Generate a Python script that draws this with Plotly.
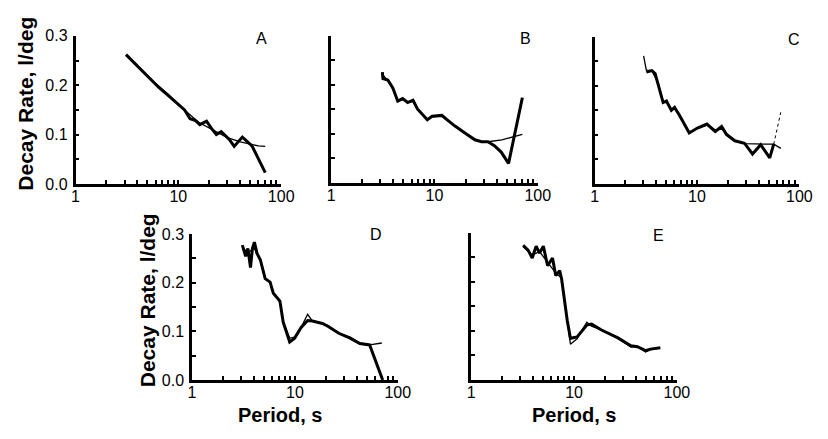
import plotly.graph_objects as go

# ---------------- data (period s, decay rate 1/deg) ----------------
A_obs_T = [3.1, 3.5, 4.0, 4.5, 5.0, 5.8, 6.5, 7.8, 9.0, 10.4, 11.5, 13.0, 14.5, 16.2, 18.8, 20.9, 23.4, 26.1, 31.3, 34.9, 41.9, 52.0, 70.0]
A_obs_y = [0.262, 0.251, 0.238, 0.228, 0.218, 0.204, 0.195, 0.181, 0.170, 0.158, 0.150, 0.132, 0.129, 0.120, 0.127, 0.113, 0.100, 0.106, 0.090, 0.076, 0.095, 0.077, 0.023]
A_fit_T = [3.1, 5.0, 8.0, 12.0, 16.0, 20.0, 25.0, 30.0, 40.0, 50.0, 60.0, 70.0]
A_fit_y = [0.262, 0.218, 0.181, 0.146, 0.124, 0.113, 0.102, 0.094, 0.085, 0.080, 0.077, 0.076]

B_obs_T = [3.13, 3.17, 3.54, 3.95, 4.41, 4.92, 5.5, 6.2, 6.84, 8.52, 9.5, 11.8, 13.2, 15.8, 19.7, 24.6, 28.5, 32.9, 38.0, 44.2, 52.1, 70.9]
B_obs_y = [0.226, 0.213, 0.210, 0.194, 0.167, 0.172, 0.164, 0.169, 0.151, 0.129, 0.136, 0.138, 0.129, 0.116, 0.102, 0.088, 0.084, 0.084, 0.076, 0.063, 0.040, 0.174]
B_fit_T = [3.13, 3.54, 3.95, 4.41, 4.92, 5.5, 6.2, 6.84, 8.52, 9.5, 11.8, 13.2, 15.8, 19.7, 24.6, 28.5, 32.9, 45.0, 59.0, 70.9]
B_fit_y = [0.222, 0.208, 0.192, 0.168, 0.170, 0.165, 0.166, 0.150, 0.130, 0.135, 0.136, 0.128, 0.116, 0.102, 0.088, 0.084, 0.084, 0.088, 0.094, 0.099]

C_obs_T = [3.2, 3.62, 3.9, 4.19, 4.67, 5.03, 5.62, 6.04, 6.74, 8.4, 10.1, 12.5, 15.1, 17.4, 19.4, 23.4, 29.1, 34.9, 41.9, 51.4, 56.2]
C_obs_y = [0.228, 0.231, 0.225, 0.202, 0.166, 0.169, 0.150, 0.156, 0.140, 0.104, 0.114, 0.122, 0.107, 0.117, 0.101, 0.088, 0.083, 0.061, 0.080, 0.053, 0.081]
C_fit_T = [3.01, 3.2, 3.62, 4.19, 4.67, 5.03, 5.62, 6.04, 6.74, 8.4, 10.1, 12.5, 15.1, 17.4, 19.4, 23.4, 29.1, 35.0, 46.0, 56.2, 66.0]
C_fit_y = [0.261, 0.232, 0.231, 0.205, 0.168, 0.168, 0.153, 0.154, 0.141, 0.106, 0.113, 0.120, 0.110, 0.112, 0.103, 0.089, 0.082, 0.081, 0.081, 0.081, 0.0725]
C_dot_T = [56.2, 65.9]
C_dot_y = [0.081, 0.146]

D_obs_T = [3.08, 3.32, 3.49, 3.7, 3.86, 4.04, 4.28, 4.61, 5.14, 5.74, 6.17, 7.15, 7.69, 8.9, 9.94, 11.5, 13.3, 14.8, 18.5, 21.1, 26.7, 34.4, 42.8, 53.3, 71.4]
D_obs_y = [0.277, 0.254, 0.270, 0.231, 0.270, 0.283, 0.260, 0.247, 0.208, 0.201, 0.178, 0.162, 0.119, 0.078, 0.086, 0.108, 0.122, 0.121, 0.116, 0.110, 0.096, 0.086, 0.075, 0.072, 0.0]
D_fit_T = [3.08, 3.49, 4.04, 4.61, 5.14, 5.74, 6.17, 7.15, 7.69, 8.9, 9.94, 11.5, 13.3, 14.8, 18.5, 21.1, 26.7, 34.4, 42.8, 53.3, 70.0]
D_fit_y = [0.272, 0.262, 0.270, 0.245, 0.208, 0.200, 0.178, 0.160, 0.120, 0.086, 0.088, 0.108, 0.135, 0.121, 0.116, 0.112, 0.096, 0.088, 0.076, 0.072, 0.076]

E_obs_T = [3.2, 3.57, 3.92, 4.28, 4.61, 5.03, 5.53, 6.17, 6.64, 7.25, 7.57, 7.98, 8.58, 9.22, 10.7, 13.3, 14.8, 18.5, 26.7, 35.7, 41.3, 49.6, 55.3, 68.9]
E_obs_y = [0.275, 0.265, 0.249, 0.273, 0.259, 0.273, 0.233, 0.249, 0.213, 0.223, 0.206, 0.167, 0.122, 0.085, 0.088, 0.112, 0.114, 0.102, 0.086, 0.070, 0.068, 0.060, 0.063, 0.066]
E_fit_T = [3.2, 3.92, 4.61, 5.53, 6.64, 7.57, 7.98, 8.58, 9.22, 10.7, 13.3, 14.8, 18.5, 26.7, 35.7, 41.3, 49.6, 55.3, 68.9]
E_fit_y = [0.272, 0.255, 0.262, 0.240, 0.218, 0.208, 0.172, 0.125, 0.073, 0.084, 0.118, 0.110, 0.102, 0.086, 0.067, 0.069, 0.057, 0.062, 0.066]

panel_letters = ["A", "B", "C", "D", "E"]
x_tick_labels = ["1", "10", "100"]
y_tick_labels = ["0.0", "0.1", "0.2", "0.3"]

# ---------------- layout geometry ----------------
W, H = 828, 439
def dx(p): return p / W
def dy(p): return 1 - p / H

# (left, right, top, bottom) in pixels
boxes = [
    (73, 283, 29, 183),
    (334, 545, 29, 182),
    (603, 812, 30, 183),
    (192, 402, 235, 387),
    (477, 687, 234, 387),
]

obs = [(A_obs_T, A_obs_y), (B_obs_T, B_obs_y), (C_obs_T, C_obs_y), (D_obs_T, D_obs_y), (E_obs_T, E_obs_y)]
fit = [(A_fit_T, A_fit_y), (B_fit_T, B_fit_y), (C_fit_T, C_fit_y), (D_fit_T, D_fit_y), (E_fit_T, E_fit_y)]

fig = go.Figure()
font_family = "Liberation Sans, Arial, sans-serif"

tickvals_x = [1, 2, 3, 4, 5, 6, 7, 8, 9, 10, 20, 30, 40, 50, 60, 70, 80, 90, 100]
ticktext_x = [x_tick_labels[0]] + [""] * 8 + [x_tick_labels[1]] + [""] * 8 + [x_tick_labels[2]]
tickvals_y = [0, 0.05, 0.1, 0.15, 0.2, 0.25, 0.3]
ticktext_y = [y_tick_labels[0], "", y_tick_labels[1], "", y_tick_labels[2], "", y_tick_labels[3]]

annotations = []
for i, (l, r, t, b) in enumerate(boxes):
    n = "" if i == 0 else str(i + 1)
    xa, ya = "x" + n, "y" + n
    fig.add_trace(go.Scatter(x=fit[i][0], y=fit[i][1], mode="lines",
                             line=dict(color="black", width=1.3), xaxis=xa, yaxis=ya,
                             showlegend=False, hoverinfo="skip"))
    fig.add_trace(go.Scatter(x=obs[i][0], y=obs[i][1], mode="lines",
                             line=dict(color="black", width=3), xaxis=xa, yaxis=ya,
                             showlegend=False, hoverinfo="skip"))
    if i == 2:
        fig.add_trace(go.Scatter(x=C_dot_T, y=C_dot_y, mode="lines",
                                 line=dict(color="black", width=1, dash="dot"),
                                 xaxis=xa, yaxis=ya, showlegend=False, hoverinfo="skip"))
    show_y = i in (0, 3)
    fig.layout["xaxis" + n] = dict(
        type="log", range=[0, 2.0], domain=[dx(l), dx(r)], anchor=ya,
        showgrid=False, zeroline=False, showline=True, linecolor="black", linewidth=2.5,
        ticks="inside", ticklen=4, tickwidth=1.5, tickcolor="black",
        tickvals=tickvals_x, ticktext=ticktext_x, ticklabelstandoff=-4,
        tickfont=dict(family=font_family, size=16, color="black"),
        fixedrange=True,
    )
    fig.layout["yaxis" + n] = dict(
        range=[0, 0.3], domain=[dy(b), dy(t)], anchor=xa,
        showgrid=False, zeroline=False, showline=True, linecolor="black", linewidth=2.5,
        ticks="inside", ticklen=4, tickwidth=1.5, tickcolor="black",
        tickvals=tickvals_y, ticktext=ticktext_y, showticklabels=show_y,
        ticklabelstandoff=2,
        tickfont=dict(family=font_family, size=16, color="black"),
        fixedrange=True,
    )

letter_pos = [(263, 32), (532, 32), (807, 33), (380, 236), (668, 237)]
for (px, py), txt in zip(letter_pos, panel_letters):
    annotations.append(dict(x=dx(px), y=dy(py), xref="paper", yref="paper", text=txt,
                            showarrow=False, xanchor="center", yanchor="middle",
                            font=dict(family=font_family, size=16, color="black")))

for px, py in [(22, 100), (146, 304)]:
    annotations.append(dict(x=dx(px), y=dy(py), xref="paper", yref="paper",
                            text="<b>Decay Rate, l/deg</b>", textangle=-90, showarrow=False,
                            xanchor="center", yanchor="middle",
                            font=dict(family=font_family, size=21, color="black")))
for px, py in [(282, 423), (582, 423)]:
    annotations.append(dict(x=dx(px), y=dy(py), xref="paper", yref="paper",
                            text="<b>Period, s</b>", showarrow=False,
                            xanchor="center", yanchor="middle",
                            font=dict(family=font_family, size=20, color="black")))

fig.update_layout(width=W, height=H, margin=dict(l=0, r=0, t=0, b=0),
                  paper_bgcolor="white", plot_bgcolor="white",
                  annotations=annotations, showlegend=False)

fig.write_html("out.html")
